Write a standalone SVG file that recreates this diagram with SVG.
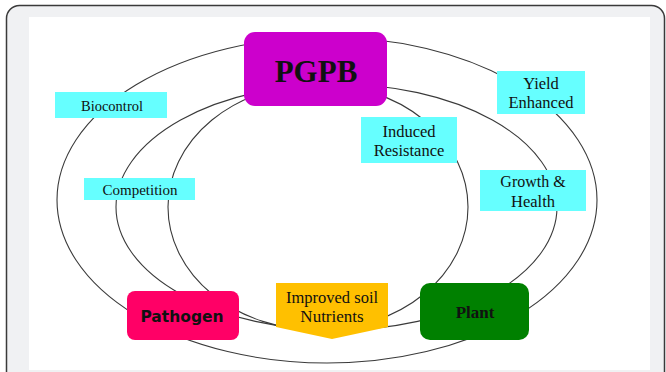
<svg xmlns="http://www.w3.org/2000/svg" width="666" height="372" viewBox="0 0 666 372">
<style>
.ring{fill:none;stroke:#3a3a3a;stroke-width:1.1}
.cyan{fill:#66ffff}
.lbl{font-family:"Liberation Serif","Times New Roman",serif;fill:#111;text-anchor:middle}
.bold{font-weight:bold}
</style>
<rect x="6.5" y="5.5" width="658" height="400" rx="13" fill="#f0f1f3" stroke="#3a3a3a" stroke-width="1.5"/>
<rect x="29" y="17" width="621" height="353" fill="#ffffff"/>
<g id="connectors">
<ellipse class="ring" cx="327" cy="200" rx="270" ry="163"/>
<ellipse class="ring" cx="336.5" cy="207" rx="220.5" ry="123"/>
<ellipse class="ring" cx="318" cy="207" rx="150" ry="123"/>
</g>
<g id="pgpb">
<rect x="244" y="32" width="143" height="74" rx="11" fill="#cc00cc"/>
<text class="lbl bold" x="316" y="82" font-size="31">PGPB</text>
</g>
<g id="biocontrol">
<rect class="cyan" x="55" y="92" width="112" height="26"/>
<text class="lbl" x="112" y="111" font-size="14.5">Biocontrol</text>
</g>
<g id="competition">
<rect class="cyan" x="84" y="178" width="111" height="22"/>
<text class="lbl" x="140" y="195" font-size="15">Competition</text>
</g>
<g id="induced-resistance">
<rect class="cyan" x="361" y="117" width="96" height="46"/>
<text class="lbl" x="409" y="137" font-size="16.5">Induced</text>
<text class="lbl" x="409" y="156" font-size="16.5">Resistance</text>
</g>
<g id="yield-enhanced">
<rect class="cyan" x="497" y="71" width="88" height="43"/>
<text class="lbl" x="541" y="89" font-size="16.5">Yield</text>
<text class="lbl" x="541" y="108" font-size="16.5">Enhanced</text>
</g>
<g id="growth-health">
<rect class="cyan" x="480" y="170" width="106" height="41"/>
<text class="lbl" x="533" y="187" font-size="16">Growth &amp;</text>
<text class="lbl" x="533" y="207" font-size="16.5">Health</text>
</g>
<g id="pathogen">
<rect x="127" y="291" width="112" height="49" rx="8" fill="#ff0066"/>
<text x="182" y="322" font-size="15.5" font-weight="bold" text-anchor="middle" font-family="'DejaVu Sans',Verdana,sans-serif" fill="#111">Pathogen</text>
</g>
<g id="improved-soil">
<polygon points="276,283 388,283 388,327 332,339 276,327" fill="#ffc000"/>
<text class="lbl" x="332" y="303" font-size="16.5">Improved soil</text>
<text class="lbl" x="332" y="322" font-size="17">Nutrients</text>
</g>
<g id="plant">
<rect x="420" y="283" width="109" height="57" rx="10" fill="#008000"/>
<text class="lbl bold" x="475" y="318" font-size="17">Plant</text>
</g>
</svg>
